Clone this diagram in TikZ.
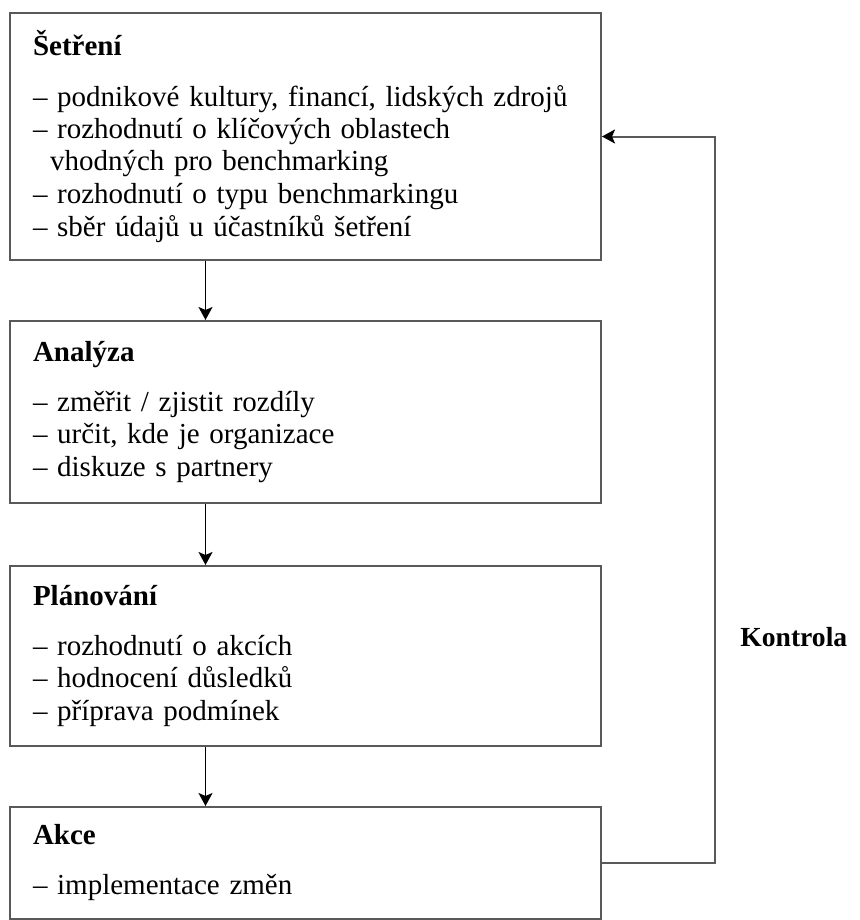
\documentclass[tikz,border=0pt]{standalone}
\usepackage{fontspec}
\setmainfont{Liberation Serif}
\usetikzlibrary{arrows.meta}

\tikzset{
  box/.style={draw=black!65, line width=1pt, minimum width=295.5pt,
    text width=272.5pt, inner xsep=11.5pt, inner ysep=0pt, align=left,
    font=\fontsize{14.5}{16.25}\selectfont},
  link/.style={-{Stealth[length=6.5pt, width=7pt, inset=1.5pt]}, line width=0.8pt},
  back/.style={draw=black!65, line width=1pt, -{Stealth[length=6.5pt, width=7pt, inset=1.5pt, black]}},
  tag/.style={font=\fontsize{13.8}{16.25}\selectfont\bfseries, inner sep=0pt},
}

\newcommand{\boxhead}[1]{\textbf{#1}\\[8.75pt]}
\newcommand{\inset}{\hspace*{8.5pt}}

\begin{document}
\begin{tikzpicture}[x=0.5pt, y=-0.5pt]
  \useasboundingbox (0,0) rectangle (859,920);

  % boxes, top to bottom
  \node[box, minimum height=123.5pt] (setreni) at (305.5,136.5) {\boxhead{Šetření}
    – podnikové kultury, financí, lidských zdrojů\\
    – rozhodnutí o klíčových oblastech\\
    \inset vhodných pro benchmarking\\
    – rozhodnutí o typu benchmarkingu\\
    – sběr údajů u účastníků šetření};
  \node[box, minimum height=91pt] (analyza) at (305.5,412) {\boxhead{Analýza}
    – změřit / zjistit rozdíly\\
    – určit, kde je organizace\\
    – diskuze s partnery};
  \node[box, minimum height=90pt] (planovani) at (305.5,656) {\boxhead{Plánování}
    – rozhodnutí o akcích\\
    – hodnocení důsledků\\
    – příprava podmínek};
  \node[box, minimum height=56pt] (akce) at (305.5,863) {\boxhead{Akce}
    – implementace změn};

  % arrows down
  \draw[link] ([xshift=-50pt]setreni.south) -- ([xshift=-50pt]analyza.north);
  \draw[link] ([xshift=-50pt]analyza.south) -- ([xshift=-50pt]planovani.north);
  \draw[link] ([xshift=-50pt]planovani.south) -- ([xshift=-50pt]akce.north);

  % feedback loop
  \coordinate (turn) at ([xshift=56.5pt]akce.east);
  \node[tag, anchor=west] (kontrola) at (740,637) {Kontrola};
  \draw[back] (akce.east) -- (turn) |- (setreni.east);
\end{tikzpicture}
\end{document}
